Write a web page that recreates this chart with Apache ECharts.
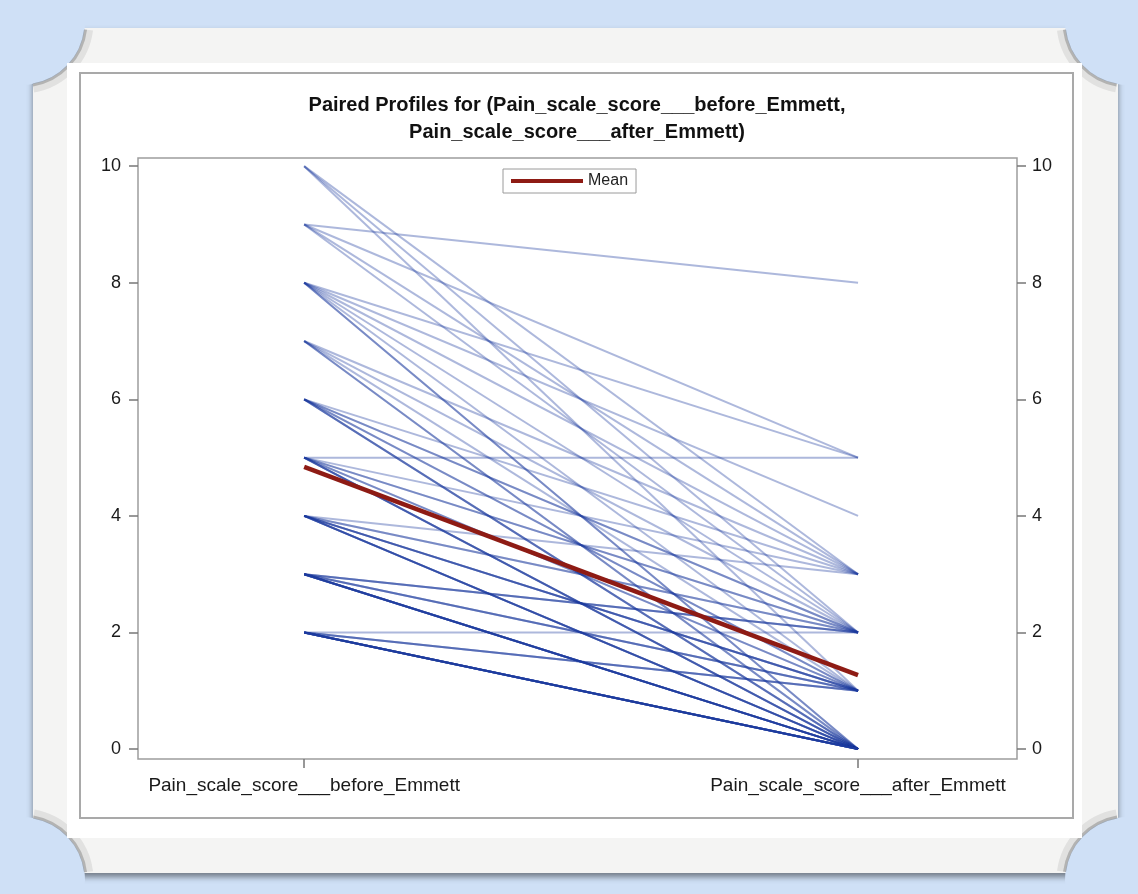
<!DOCTYPE html>
<html>
<head>
<meta charset="utf-8">
<title>Paired Profiles</title>
<script src="https://cdn.jsdelivr.net/npm/echarts@6/dist/echarts.min.js"></script>
<style>
    html, body { margin: 0; padding: 0; background: #cfe0f6; }
    #chart { width: 1138px; height: 894px; }
</style>
</head>
<body>
<div id="chart"></div>
<script>
// paired scores, one entry per subject (before[i] goes with after[i])
const beforeScores = [
    10, 10, 10,
    9, 9, 9, 9,
    8, 8, 8, 8, 8, 8, 8,
    7, 7, 7, 7, 7,
    6, 6, 6, 6, 6, 6, 6, 6,
    5, 5, 5, 5, 5, 5, 5, 5, 5, 5,
    4, 4, 4, 4, 4, 4, 4, 4, 4, 4, 4, 4,
    3, 3, 3, 3, 3, 3, 3, 3, 3, 3, 3, 3, 3, 3,
    2, 2, 2, 2, 2, 2, 2, 2, 2, 2, 2, 2, 2, 2
];
const afterScores = [
    3, 2, 1,
    8, 5, 3, 2,
    5, 4, 3, 2, 1, 0, 0,
    3, 2, 1, 0, 0,
    3, 2, 2, 1, 1, 0, 0, 0,
    5, 3, 2, 2, 1, 1, 0, 0, 0, 0,
    3, 2, 2, 1, 1, 1, 1, 0, 0, 0, 0, 0,
    2, 2, 2, 1, 1, 1, 0, 0, 0, 0, 0, 0, 0, 0,
    2, 1, 1, 1, 0, 0, 0, 0, 0, 0, 0, 0, 0, 0
];
const meanScores = [4.84, 1.27];
const conditionLabels = ['Pain_scale_score___before_Emmett', 'Pain_scale_score___after_Emmett'];
const yTicks = [0, 2, 4, 6, 8, 10];

const font = '"Liberation Sans", Arial, sans-serif';
const bg = '#cfe0f6';

const chart = echarts.init(document.getElementById('chart'));

// one line per subject
const subjectSeries = beforeScores.map((b, i) => ({
    type: 'line',
    name: 'subject' + (i + 1),
    data: [[0, b], [1, afterScores[i]]],
    symbol: 'none',
    silent: true,
    z: 2,
    lineStyle: { color: '#1c3a9e', width: 2, opacity: 0.36 }
}));

// frame decoration: curled corners are blue discs, grey rim only where it lies on the frame
const corners = [
    [22, 22, 0.12, 1.40],
    [1128, 22, 1.75, 3.02],
    [22, 880, 4.89, 6.16],
    [1128, 880, 3.27, 4.54]
];
const cornerEls = [];
corners.forEach(c => {
    cornerEls.push({
        type: 'circle', z: -9, silent: true,
        shape: { cx: c[0], cy: c[1], r: 63 },
        style: { fill: bg }
    });
    cornerEls.push({
        type: 'arc', z: -9, silent: true,
        shape: { cx: c[0], cy: c[1], r: 67, startAngle: c[2], endAngle: c[3] },
        style: { fill: 'none', stroke: 'rgba(60,60,60,0.10)', lineWidth: 9 }
    });
    cornerEls.push({
        type: 'arc', z: -9, silent: true,
        shape: { cx: c[0], cy: c[1], r: 64, startAngle: c[2], endAngle: c[3] },
        style: { fill: 'none', stroke: 'rgba(60,60,60,0.28)', lineWidth: 3 }
    });
});

chart.setOption({
    backgroundColor: bg,
    animation: false,
    textStyle: { fontFamily: font },
    graphic: [
        {
            type: 'rect', z: -10, silent: true,
            shape: { x: 33, y: 28, width: 1085, height: 845 },
            style: { fill: '#f4f4f3', shadowBlur: 6, shadowOffsetY: 4, shadowColor: 'rgba(0,0,0,0.45)' }
        }
    ].concat(cornerEls, [
        {
            type: 'rect', z: -8, silent: true,
            shape: { x: 67, y: 63, width: 1015, height: 775 },
            style: { fill: '#ffffff' }
        },
        {
            type: 'rect', z: -7, silent: true,
            shape: { x: 80, y: 73, width: 993, height: 745 },
            style: { fill: 'none', stroke: '#a9a9a9', lineWidth: 2 }
        }
    ]),
    title: {
        text: 'Paired Profiles for (Pain_scale_score___before_Emmett,\nPain_scale_score___after_Emmett)',
        left: 577,
        top: 92,
        padding: 0,
        textAlign: 'center',
        textStyle: { fontFamily: font, fontSize: 20, fontWeight: 'bold', color: '#111', lineHeight: 27 }
    },
    legend: {
        data: ['Mean'],
        left: 503,
        top: 169,
        padding: [4, 8, 4, 8],
        borderColor: '#9a9a9a',
        borderWidth: 1,
        backgroundColor: '#fff',
        icon: 'rect',
        itemWidth: 72,
        itemHeight: 4,
        itemGap: 6,
        textStyle: { fontFamily: font, fontSize: 16, color: '#222' }
    },
    grid: {
        left: 138, top: 158, width: 879, height: 601,
        show: true, borderColor: '#9d9d9d', borderWidth: 1.5, backgroundColor: '#fff'
    },
    xAxis: {
        type: 'value',
        min: -0.3,
        max: 1.287,
        splitLine: { show: false },
        axisLine: { show: false, onZero: false },
        axisTick: { show: true, customValues: [0, 1], length: 9, lineStyle: { color: '#777', width: 1.5 } },
        axisLabel: {
            customValues: [0, 1],
            margin: 17,
            fontFamily: font,
            fontSize: 19,
            color: '#1a1a1a',
            formatter: v => conditionLabels[Math.round(v)]
        }
    },
    yAxis: [0, 1].map(k => ({
        type: 'value',
        position: k ? 'right' : 'left',
        min: -0.17,
        max: 10.14,
        splitLine: { show: false },
        axisLine: { show: false, onZero: false },
        axisTick: { show: true, customValues: yTicks, length: 9, lineStyle: { color: '#777', width: 1.5 } },
        axisLabel: {
            customValues: yTicks,
            margin: k ? 15 : 17,
            fontFamily: font,
            fontSize: 18,
            color: '#1a1a1a'
        }
    })),
    series: subjectSeries.concat([{
        type: 'line',
        name: 'Mean',
        data: [[0, meanScores[0]], [1, meanScores[1]]],
        symbol: 'none',
        silent: true,
        z: 5,
        itemStyle: { color: '#8e1b14' },
        lineStyle: { color: '#8e1b14', width: 4.5 }
    }])
});
</script>
</body>
</html>
